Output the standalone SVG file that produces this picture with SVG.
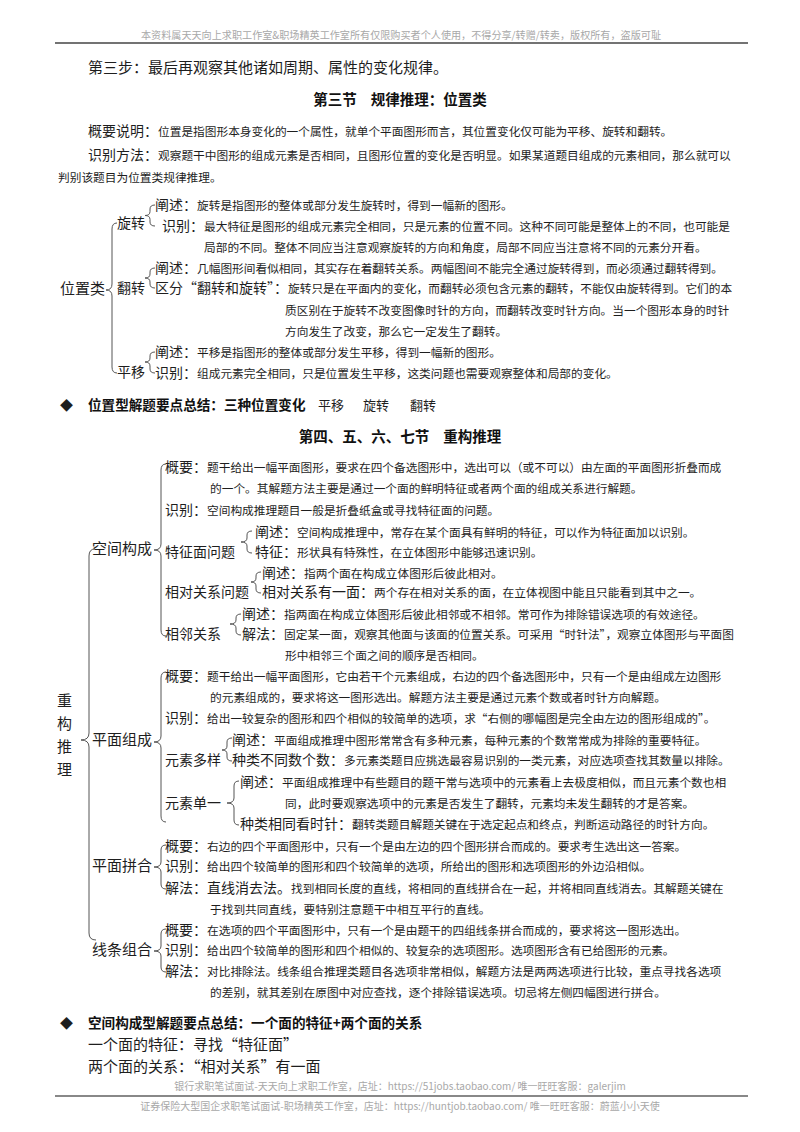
<svg xmlns="http://www.w3.org/2000/svg" width="800" height="1132" viewBox="0 0 800 1132">
<style>
text { font-family: "Noto Sans CJK SC", "Noto Sans", sans-serif; fill: #1e1e1e; }
.big { font-size: 15px; }
.l { font-size: 14px; }
.s { font-size: 11.7px; }
.h { font-size: 14.5px; font-weight: bold; fill: #111; }
.hb { font-size: 13.6px; font-weight: bold; fill: #111; }
.m { font-size: 13px; }
.g { font-size: 10px; fill: #a8a8a8; }
.brace { fill: none; stroke: #555; stroke-width: 1; }
.rule { stroke: #444; stroke-width: 1.3; }
.rule2 { stroke: #888; stroke-width: 2; }
</style>
<rect width="800" height="1132" fill="#ffffff"/>

<g id="page-header">
  <text class="g" x="401" y="39" text-anchor="middle" textLength="520" lengthAdjust="spacingAndGlyphs">本资料属天天向上求职工作室&amp;职场精英工作室所有仅限购买者个人使用，不得分享/转赠/转卖，版权所有，盗版可耻</text>
  <line class="rule" x1="55" y1="43" x2="748" y2="43"/>
</g>

<g id="intro">
  <text class="big" x="88" y="73">第三步：最后再观察其他诸如周期、属性的变化规律。</text>
  <text class="h" x="400" y="105" text-anchor="middle">第三节<tspan dx="14">规律推理：位置类</tspan></text>
  <text class="l" x="88" y="136">概要说明：<tspan class="s">位置是指图形本身变化的一个属性，就单个平面图形而言，其位置变化仅可能为平移、旋转和翻转。</tspan></text>
  <text class="l" x="88" y="160">识别方法：<tspan class="s">观察题干中图形的组成元素是否相同，且图形位置的变化是否明显。如果某道题目组成的元素相同，那么就可以</tspan></text>
  <text class="s" x="58" y="182">判别该题目为位置类规律推理。</text>
</g>

<g id="connectors">
  <!-- tree 1 -->
  <path class="brace" d="M117,223 Q112,223 112,229 L112,284 Q112,290 106,290 Q112,290 112,296 L112,367 Q112,373 117,373"/>
  <path class="brace" d="M155,205 Q150,205 150,209 L150,211.5 Q150,215.5 145,215.5 Q150,215.5 150,219.5 L150,222 Q150,226 155,226"/>
  <path class="brace" d="M155,268 Q150,268 150,272 L150,274 Q150,278 145,278 Q150,278 150,282 L150,284 Q150,288 155,288"/>
  <path class="brace" d="M155,352 Q150,352 150,356 L150,358 Q150,362 145,362 Q150,362 150,366 L150,369 Q150,373 155,373"/>
  <!-- tree 2 -->
  <path class="brace" d="M95,549 Q89,549 89,556 L89,733 Q89,740 81,740 Q89,740 89,747 L89,933 Q89,940 96,940"/>
  <path class="brace" d="M166,464 Q161,464 161,470 L161,544 Q161,550 154,550 Q161,550 161,556 L161,630 Q161,636 166,636"/>
  <path class="brace" d="M252,531 Q247,531 247,535 L247,538 Q247,542 241,542 Q247,542 247,546 L247,549 Q247,553 252,553"/>
  <path class="brace" d="M261,572 Q256,572 256,576 L256,578 Q256,582 251,582 Q256,582 256,586 L256,589 Q256,593 261,593"/>
  <path class="brace" d="M241,614 Q236,614 236,618 L236,620 Q236,624 230,624 Q236,624 236,628 L236,631 Q236,635 241,635"/>
  <path class="brace" d="M166,672 Q161,672 161,678 L161,736 Q161,742 154,742 Q161,742 161,748 L161,816 Q161,822 166,822"/>
  <path class="brace" d="M232,738 Q227,738 227,742 L227,746 Q227,750 222,750 Q227,750 227,754 L227,757 Q227,761 232,761"/>
  <path class="brace" d="M239,781 Q234,781 234,786 L234,798 Q234,803 227,803 Q234,803 234,808 L234,820 Q234,825 239,825"/>
  <path class="brace" d="M166,845 Q161,845 161,850 L161,862 Q161,867 154,867 Q161,867 161,872 L161,884 Q161,889 166,889"/>
  <path class="brace" d="M166,929 Q161,929 161,934 L161,946 Q161,951 154,951 Q161,951 161,956 L161,967 Q161,972 166,972"/>
</g>

<g id="tree-position">
  <g id="n-weizhilei"><text class="big" x="60" y="294">位置类</text></g>
  <g id="n-xuanzhuan">
    <text class="l" x="117" y="228">旋转</text>
    <text class="l" x="155" y="210">阐述：<tspan class="s">旋转是指图形的整体或部分发生旋转时，得到一幅新的图形。</tspan></text>
    <text class="l" x="162" y="231">识别：<tspan class="s">最大特征是图形的组成元素完全相同，只是元素的位置不同。这种不同可能是整体上的不同，也可能是</tspan></text>
    <text class="s" x="204" y="252">局部的不同。整体不同应当注意观察旋转的方向和角度，局部不同应当注意将不同的元素分开看。</text>
  </g>
  <g id="n-fanzhuan">
    <text class="l" x="117" y="293">翻转</text>
    <text class="l" x="155" y="273">阐述：<tspan class="s">几幅图形间看似相同，其实存在着翻转关系。两幅图间不能完全通过旋转得到，而必须通过翻转得到。</tspan></text>
    <text class="l" x="155" y="293">区分“翻转和旋转”：<tspan class="s">旋转只是在平面内的变化，而翻转必须包含元素的翻转，不能仅由旋转得到。它们的本</tspan></text>
    <text class="s" x="285" y="315">质区别在于旋转不改变图像时针的方向，而翻转改变时针方向。当一个图形本身的时针</text>
    <text class="s" x="285" y="336">方向发生了改变，那么它一定发生了翻转。</text>
  </g>
  <g id="n-pingyi">
    <text class="l" x="117" y="377">平移</text>
    <text class="l" x="155" y="357">阐述：<tspan class="s">平移是指图形的整体或部分发生平移，得到一幅新的图形。</tspan></text>
    <text class="l" x="155" y="378">识别：<tspan class="s">组成元素完全相同，只是位置发生平移，这类问题也需要观察整体和局部的变化。</tspan></text>
  </g>
</g>

<g id="summary-position">
  <text class="m" x="60" y="410">◆</text>
  <text class="hb" x="88" y="410">位置型解题要点总结：三种位置变化</text>
  <text class="m" x="318" y="410">平移</text>
  <text class="m" x="363" y="410">旋转</text>
  <text class="m" x="410" y="410">翻转</text>
  <text class="h" x="400" y="442" text-anchor="middle">第四、五、六、七节<tspan dx="14">重构推理</tspan></text>
</g>

<g id="tree-reconstruct">
  <g id="n-chonggou">
    <text class="big" x="57" y="706">重</text>
    <text class="big" x="57" y="729">构</text>
    <text class="big" x="57" y="752">推</text>
    <text class="big" x="57" y="775">理</text>
  </g>
  <g id="n-kongjian">
    <text class="big" x="92" y="554">空间构成</text>
    <text class="l" x="165" y="472">概要：<tspan class="s">题干给出一幅平面图形，要求在四个备选图形中，选出可以（或不可以）由左面的平面图形折叠而成</tspan></text>
    <text class="s" x="210" y="493">的一个。其解题方法主要是通过一个面的鲜明特征或者两个面的组成关系进行解题。</text>
    <text class="l" x="165" y="515">识别：<tspan class="s">空间构成推理题目一般是折叠纸盒或寻找特征面的问题。</tspan></text>
    <g id="n-tezhengmian">
      <text class="l" x="165" y="557">特征面问题</text>
      <text class="l" x="255" y="537">阐述：<tspan class="s">空间构成推理中，常存在某个面具有鲜明的特征，可以作为特征面加以识别。</tspan></text>
      <text class="l" x="255" y="557">特征：<tspan class="s">形状具有特殊性，在立体图形中能够迅速识别。</tspan></text>
    </g>
    <g id="n-xiangdui">
      <text class="l" x="165" y="597">相对关系问题</text>
      <text class="l" x="262" y="578">阐述：<tspan class="s">指两个面在构成立体图形后彼此相对。</tspan></text>
      <text class="l" x="262" y="597">相对关系有一面：<tspan class="s">两个存在相对关系的面，在立体视图中能且只能看到其中之一。</tspan></text>
    </g>
    <g id="n-xianglin">
      <text class="l" x="165" y="639">相邻关系</text>
      <text class="l" x="242" y="619">阐述：<tspan class="s">指两面在构成立体图形后彼此相邻或不相邻。常可作为排除错误选项的有效途径。</tspan></text>
      <text class="l" x="242" y="639">解法：<tspan class="s">固定某一面，观察其他面与该面的位置关系。可采用“时针法”，观察立体图形与平面图</tspan></text>
      <text class="s" x="285" y="660">形中相邻三个面之间的顺序是否相同。</text>
    </g>
  </g>
  <g id="n-pingmianzucheng">
    <text class="big" x="92" y="745">平面组成</text>
    <text class="l" x="165" y="681">概要：<tspan class="s">题干给出一幅平面图形，它由若干个元素组成，右边的四个备选图形中，只有一个是由组成左边图形</tspan></text>
    <text class="s" x="210" y="702">的元素组成的，要求将这一图形选出。解题方法主要是通过元素个数或者时针方向解题。</text>
    <text class="l" x="165" y="723">识别：<tspan class="s">给出一较复杂的图形和四个相似的较简单的选项，求“右侧的哪幅图是完全由左边的图形组成的”。</tspan></text>
    <g id="n-duoyang">
      <text class="l" x="165" y="765">元素多样</text>
      <text class="l" x="232" y="745">阐述：<tspan class="s">平面组成推理中图形常常含有多种元素，每种元素的个数常常成为排除的重要特征。</tspan></text>
      <text class="l" x="232" y="765">种类不同数个数：<tspan class="s">多元素类题目应挑选最容易识别的一类元素，对应选项查找其数量以排除。</tspan></text>
    </g>
    <g id="n-danyi">
      <text class="l" x="165" y="808">元素单一</text>
      <text class="l" x="240" y="787">阐述：<tspan class="s">平面组成推理中有些题目的题干常与选项中的元素看上去极度相似，而且元素个数也相</tspan></text>
      <text class="s" x="285" y="808">同，此时要观察选项中的元素是否发生了翻转，元素均未发生翻转的才是答案。</text>
      <text class="l" x="240" y="829">种类相同看时针：<tspan class="s">翻转类题目解题关键在于选定起点和终点，判断运动路径的时针方向。</tspan></text>
    </g>
  </g>
  <g id="n-pinhe">
    <text class="big" x="92" y="871">平面拼合</text>
    <text class="l" x="165" y="851">概要：<tspan class="s">右边的四个平面图形中，只有一个是由左边的四个图形拼合而成的。要求考生选出这一答案。</tspan></text>
    <text class="l" x="165" y="871">识别：<tspan class="s">给出四个较简单的图形和四个较简单的选项，所给出的图形和选项图形的外边沿相似。</tspan></text>
    <text class="l" x="165" y="893">解法：直线消去法。<tspan class="s">找到相同长度的直线，将相同的直线拼合在一起，并将相同直线消去。其解题关键在</tspan></text>
    <text class="s" x="210" y="914">于找到共同直线，要特别注意题干中相互平行的直线。</text>
  </g>
  <g id="n-xiantiao">
    <text class="big" x="92" y="955">线条组合</text>
    <text class="l" x="165" y="935">概要：<tspan class="s">在选项的四个平面图形中，只有一个是由题干的四组线条拼合而成的，要求将这一图形选出。</tspan></text>
    <text class="l" x="165" y="955">识别：<tspan class="s">给出四个较简单的图形和四个相似的、较复杂的选项图形。选项图形含有已给图形的元素。</tspan></text>
    <text class="l" x="165" y="976">解法：<tspan class="s">对比排除法。线条组合推理类题目各选项非常相似，解题方法是两两选项进行比较，重点寻找各选项</tspan></text>
    <text class="s" x="210" y="997">的差别，就其差别在原图中对应查找，逐个排除错误选项。切忌将左侧四幅图进行拼合。</text>
  </g>
</g>

<g id="summary-space">
  <text class="m" x="60" y="1028">◆</text>
  <text class="hb" x="88" y="1028">空间构成型解题要点总结：一个面的特征+两个面的关系</text>
  <text class="big" x="88" y="1050">一个面的特征：寻找“特征面”</text>
  <text class="big" x="88" y="1072">两个面的关系：“相对关系”有一面</text>
</g>

<g id="page-footer">
  <text class="g" x="400" y="1090" text-anchor="middle">银行求职笔试面试-天天向上求职工作室，店址：https://51jobs.taobao.com/ 唯一旺旺客服：galerjim</text>
  <line class="rule2" x1="55" y1="1096" x2="748" y2="1096"/>
  <text class="g" x="400" y="1110" text-anchor="middle">证券保险大型国企求职笔试面试-职场精英工作室，店址：https://huntjob.taobao.com/ 唯一旺旺客服：蔚蓝小小天使</text>
</g>
</svg>
